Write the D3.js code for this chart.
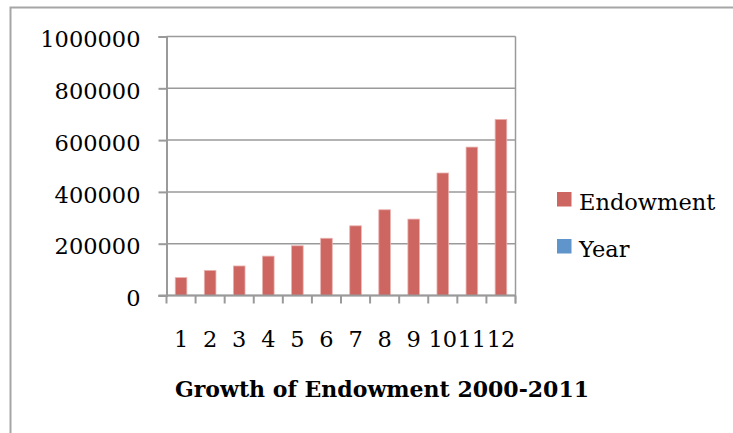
<!DOCTYPE html>
<html>
<head>
<meta charset="utf-8">
<script src="https://cdn.jsdelivr.net/npm/d3@7"></script>
<style>
  body { margin: 0; background: #fff; }
  text { font-family: "DejaVu Serif", serif; fill: #000; }
</style>
</head>
<body>
<div id="chart"></div>
<script>
// data
var categories = ['1', '2', '3', '4', '5', '6', '7', '8', '9', '10', '11', '12']
var endowment = [69000, 97000, 114000, 152000, 192000, 221000, 269000, 331000, 295000, 473000, 573000, 680000]
var yTicks = [0, 200000, 400000, 600000, 800000, 1000000]
var seriesNames = ['Endowment', 'Year']
var seriesColors = ['#cd6561', '#6095cc']
var chartTitle = 'Growth of Endowment 2000-2011'

const WIDTH = 733
const HEIGHT = 433
const LEFT = 166.5
const RIGHT = 515.5
const TOP = 36.5
const BOTTOM = 295.5
const FONT_SIZE = '22.5px'

var svg = d3.select('#chart')
    .append('svg')
    .attr('width', WIDTH)
    .attr('height', HEIGHT)

var defs = svg.append('defs')
defs.append('filter')
    .attr('id', 'soft')
    .attr('x', '-10%').attr('y', '-300%')
    .attr('width', '120%').attr('height', '700%')
    .append('feGaussianBlur')
    .attr('stdDeviation', 2.2)

// outer chart frame (only top and left visible)
svg.append('path')
    .attr('d', 'M10.5,' + HEIGHT + ' L10.5,7.5 L' + WIDTH + ',7.5')
    .style('fill', 'none')
    .style('stroke', '#a6a6a6')
    .style('stroke-width', 2)

var xscale = d3.scaleBand()
    .domain(categories)
    .range([LEFT, RIGHT])
    .paddingInner(0.6)
    .paddingOuter(0.3)

var yscale = d3.scaleLinear()
    .domain([0, 1000000])
    .range([BOTTOM, TOP])

// gridline shadows
svg.append('g')
    .selectAll('line')
    .data(yTicks)
    .enter()
    .append('line')
    .attr('x1', LEFT + 6)
    .attr('x2', RIGHT + 8)
    .attr('y1', d => yscale(d) + 6)
    .attr('y2', d => yscale(d) + 6)
    .style('stroke', '#bdbdbd')
    .style('stroke-width', 4)
    .attr('filter', 'url(#soft)')

// gridlines
svg.append('g')
    .selectAll('line')
    .data(yTicks)
    .enter()
    .append('line')
    .attr('x1', LEFT)
    .attr('x2', RIGHT)
    .attr('y1', d => yscale(d))
    .attr('y2', d => yscale(d))
    .style('stroke', '#9a9a9a')
    .style('stroke-width', 1.5)

// right border of plot area
svg.append('line')
    .attr('x1', RIGHT).attr('x2', RIGHT)
    .attr('y1', TOP).attr('y2', BOTTOM + 8)
    .style('stroke', '#9a9a9a')
    .style('stroke-width', 1.5)

// bars
svg.append('g')
    .selectAll('rect')
    .data(endowment)
    .enter()
    .append('rect')
    .attr('x', (d, i) => xscale(categories[i]))
    .attr('y', d => yscale(d))
    .attr('width', xscale.bandwidth())
    .attr('height', d => yscale(0) - yscale(d))
    .style('fill', seriesColors[0])
    .style('stroke', '#e9b3b0')
    .style('stroke-width', 0.8)

// y axis
var y_axis = d3.axisLeft(yscale)
    .tickValues(yTicks)
    .tickSize(8)
    .tickPadding(18)
    .tickFormat(d3.format('d'))

var gy = svg.append('g')
    .attr('transform', 'translate(' + LEFT + ',0)')
    .call(y_axis)
gy.select('.domain').style('stroke', '#9a9a9a').style('stroke-width', 2)
gy.selectAll('.tick line').style('stroke', '#9a9a9a').style('stroke-width', 2)
gy.selectAll('.tick text')
    .style('font-family', '"DejaVu Serif", serif')
    .style('font-size', FONT_SIZE)
    .attr('dy', '0.45em')

// x axis: ticks at category boundaries
var step = xscale.step()
var boundaries = d3.range(categories.length + 1).map(i => LEFT + i * step)
svg.append('line')
    .attr('x1', LEFT - 8).attr('x2', RIGHT)
    .attr('y1', BOTTOM).attr('y2', BOTTOM)
    .style('stroke', '#9a9a9a')
    .style('stroke-width', 2)
svg.append('g')
    .selectAll('line')
    .data(boundaries)
    .enter()
    .append('line')
    .attr('x1', d => d).attr('x2', d => d)
    .attr('y1', BOTTOM).attr('y2', BOTTOM + 8)
    .style('stroke', '#9a9a9a')
    .style('stroke-width', 2)

svg.append('g')
    .selectAll('text')
    .data(categories)
    .enter()
    .append('text')
    .attr('x', d => xscale(d) + xscale.bandwidth() / 2)
    .attr('y', 346.5)
    .attr('text-anchor', 'middle')
    .style('font-size', FONT_SIZE)
    .text(d => d)

// legend
var legend = svg.append('g')
    .selectAll('g')
    .data(seriesNames)
    .enter()
    .append('g')
    .attr('transform', (d, i) => 'translate(557,' + (192 + i * 47) + ')')
legend.append('rect')
    .attr('width', 14.5)
    .attr('height', 14.5)
    .style('fill', (d, i) => seriesColors[i])
legend.append('text')
    .attr('x', 22)
    .attr('y', 17.5)
    .style('font-size', FONT_SIZE)
    .text(d => d)

// title below the axis
svg.append('text')
    .attr('x', 382)
    .attr('y', 397)
    .attr('text-anchor', 'middle')
    .style('font-size', '22px')
    .style('font-weight', 'bold')
    .text(chartTitle)
</script>
</body>
</html>
